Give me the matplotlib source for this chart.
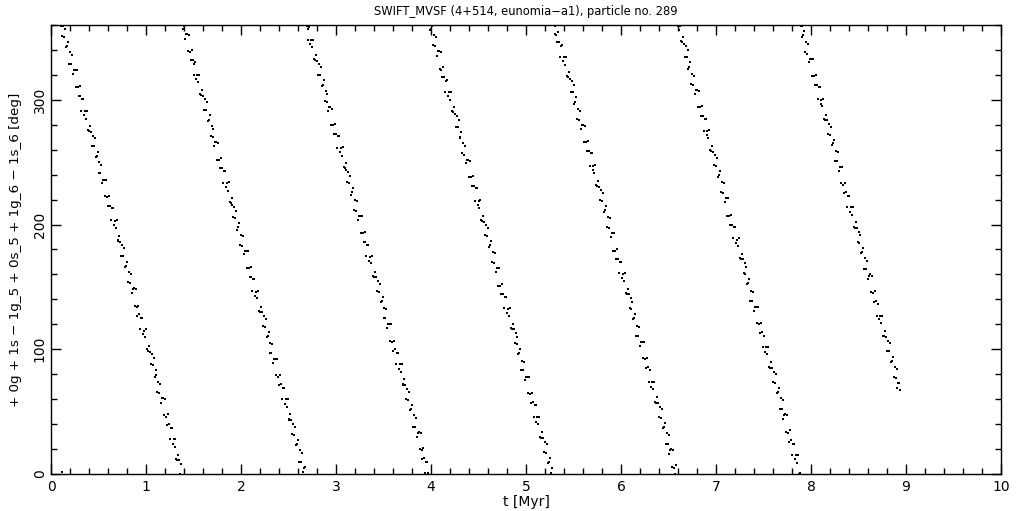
import numpy as np
import matplotlib
matplotlib.use('Agg')
import matplotlib.pyplot as plt
from matplotlib.ticker import MultipleLocator

# ------------------------------------------------
# Data: resonant angle, one list per
# circulation cycle, sampled every dt from its start time.
# ------------------------------------------------

dt = 0.01  # Myr

band_starts = [0.11, 1.39, 2.69, 3.99, 5.30, 6.60, 7.89]

band1 = [359, 351, 359, 350, 357, 342, 343, 346, 329, 338, 329, 336, 321, 324, 324, 310,
         324, 310, 303, 311, 303, 291, 301, 301, 288, 291, 285, 291, 276, 275, 279, 274,
         263, 271, 263, 269, 254, 255, 258, 241, 250, 241, 248, 233, 236, 236, 223, 236,
         222, 215, 223, 215, 204, 213, 213, 200, 203, 197, 204, 188, 187, 191, 186, 175,
         184, 175, 181, 166, 167, 170, 154, 162, 153, 160, 145, 148, 149, 135, 148, 134,
         127, 135, 128, 116, 125, 125, 112, 115, 110, 116, 100, 99, 103, 98, 88, 96,
         87, 93, 78, 79, 83, 66, 74, 65, 72, 57, 61, 61, 47, 60, 46, 39,
         48, 40, 28, 37, 37, 24, 28, 22, 28, 12, 11, 15, 11, 0, 8]

band2 = [357, 359, 349, 353, 353, 339, 352, 338, 332, 340, 332, 320, 329, 330, 317, 320,
         314, 320, 305, 304, 308, 303, 292, 301, 292, 298, 283, 284, 288, 271, 279, 270,
         277, 263, 266, 266, 252, 265, 252, 245, 253, 245, 233, 243, 243, 230, 233, 227,
         234, 218, 217, 221, 216, 206, 214, 205, 211, 196, 198, 201, 184, 192, 183, 191,
         176, 179, 179, 165, 179, 165, 158, 166, 158, 147, 156, 156, 143, 146, 141, 147,
         131, 130, 134, 130, 119, 127, 118, 124, 110, 111, 114, 97, 105, 97, 104, 89,
         92, 92, 79, 92, 78, 71, 79, 72, 60, 69, 69, 56, 60, 54, 60, 44,
         43, 48, 43, 32, 40, 31, 38, 23, 24, 27, 10, 19, 10, 17, 2, 5, 6]

band3 = [359, 348, 357, 358, 345, 348, 342, 348, 333, 332, 336, 331, 320, 329, 320, 326,
         311, 312, 316, 299, 307, 298, 305, 291, 294, 294, 280, 293, 280, 273, 281, 273,
         261, 271, 271, 258, 261, 255, 262, 246, 245, 249, 244, 234, 242, 233, 239, 224,
         226, 229, 212, 220, 211, 219, 204, 207, 207, 193, 207, 193, 186, 194, 186, 175,
         184, 184, 171, 174, 169, 175, 159, 158, 162, 158, 147, 155, 146, 152, 138, 139,
         142, 125, 133, 125, 132, 117, 120, 120, 107, 120, 106, 99, 107, 100, 88, 97,
         97, 84, 88, 82, 88, 72, 71, 76, 71, 60, 68, 59, 66, 51, 52, 55,
         38, 47, 38, 45, 30, 33, 34, 20, 33, 19, 12, 21, 13, 1, 10, 10, 1]

band4 = [356, 357, 359, 344, 352, 343, 350, 335, 339, 339, 325, 338, 324, 318, 326, 318,
         306, 315, 316, 303, 306, 300, 306, 291, 290, 294, 289, 278, 287, 278, 284, 269,
         270, 274, 257, 265, 256, 263, 249, 252, 252, 238, 251, 238, 231, 239, 231, 219,
         229, 229, 216, 219, 213, 220, 204, 203, 207, 202, 192, 200, 191, 197, 182, 184,
         187, 170, 178, 169, 177, 162, 165, 165, 151, 165, 151, 144, 152, 144, 133, 142,
         142, 129, 132, 127, 133, 117, 116, 120, 116, 105, 113, 104, 110, 96, 97, 100,
         83, 91, 83, 90, 75, 78, 78, 65, 78, 64, 57, 65, 58, 46, 55, 55,
         42, 46, 40, 46, 30, 29, 34, 29, 18, 26, 17, 24, 9, 10, 13, 1, 5]

band5 = [353, 359, 352, 346, 354, 346, 334, 343, 344, 331, 334, 328, 334, 319, 318, 322,
         317, 306, 315, 306, 312, 297, 298, 302, 285, 293, 284, 291, 277, 280, 280, 266,
         279, 266, 259, 267, 259, 247, 257, 257, 244, 247, 241, 248, 232, 231, 235, 230,
         220, 228, 219, 225, 210, 212, 215, 198, 206, 197, 205, 190, 193, 193, 179, 193,
         179, 172, 180, 172, 161, 170, 170, 157, 160, 155, 161, 145, 144, 148, 144, 133,
         141, 132, 138, 124, 125, 128, 111, 119, 111, 118, 103, 106, 106, 93, 106, 92,
         85, 93, 86, 74, 83, 83, 70, 74, 68, 74, 58, 57, 62, 57, 46, 54,
         45, 52, 37, 38, 41, 24, 33, 24, 31, 16, 19, 20, 6, 19, 5, 0, 7]

band6 = [359, 356, 359, 347, 346, 350, 345, 334, 343, 334, 340, 325, 326, 330, 313, 321,
         312, 319, 305, 308, 308, 294, 307, 294, 287, 295, 287, 275, 285, 285, 272, 275,
         269, 276, 260, 259, 263, 258, 248, 256, 247, 253, 238, 240, 243, 226, 234, 225,
         233, 218, 221, 221, 207, 221, 207, 200, 208, 200, 189, 198, 198, 185, 188, 183,
         189, 173, 172, 176, 172, 161, 169, 160, 166, 152, 153, 156, 139, 147, 139, 146,
         131, 134, 134, 121, 134, 120, 113, 121, 114, 102, 111, 111, 98, 102, 96, 102,
         86, 85, 90, 85, 74, 82, 73, 80, 65, 66, 69, 52, 61, 52, 59, 44,
         47, 48, 34, 47, 33, 26, 35, 27, 15, 24, 24, 12, 15, 9, 15, 0, 1]

band7 = [359, 359, 350, 352, 355, 338, 346, 337, 345, 330, 333, 333, 319, 333, 319, 312,
         320, 312, 301, 310, 310, 297, 300, 295, 301, 285, 284, 288, 284, 273, 281, 272,
         278, 264, 265, 268, 251, 259, 251, 258, 243, 246, 246, 233, 246, 232, 225, 233,
         226, 214, 223, 223, 210, 214, 208, 214, 198, 197, 202, 197, 186, 194, 185, 192,
         177, 178, 181, 164, 173, 164, 171, 156, 159, 160, 146, 159, 145, 138, 147, 139,
         127, 136, 136, 124, 127, 121, 127, 111, 111, 115, 110, 99, 107, 99, 105, 90,
         91, 94, 78, 86, 77, 84, 69, 73, 73, 67]

bands = [band1, band2, band3, band4, band5, band6, band7]

# a lone point at the very bottom, just before the first cycle wraps
stray_t = [0.12]
stray_deg = [2]

title = 'SWIFT_MVSF (4+514, eunomia\u2212a1), particle no. 289'
xlabel = 't [Myr]'
ylabel = '+ 0g + 1s \u2212 1g_5 + 0s_5 + 1g_6 \u2212 1s_6 [deg]'

# ------------------------------------------------
# Plot
# ------------------------------------------------

plt.rcParams['font.family'] = 'DejaVu Sans'

fig = plt.figure(figsize=(10.21, 5.11), dpi=100)
ax = fig.add_axes([51 / 1021, 37 / 511, 950 / 1021, 449 / 511])

for start, vals in zip(band_starts, bands):
    t = start + dt * np.arange(len(vals))
    ax.plot(t, vals, linestyle='none', marker='s', markersize=1.5,
            markeredgewidth=0, color='black')
ax.plot(stray_t, stray_deg, linestyle='none', marker='s', markersize=1.5,
        markeredgewidth=0, color='black')

ax.set_xlim(0, 10)
ax.set_ylim(0, 360)
ax.xaxis.set_major_locator(MultipleLocator(1))
ax.xaxis.set_minor_locator(MultipleLocator(0.2))
ax.yaxis.set_major_locator(MultipleLocator(100))
ax.yaxis.set_minor_locator(MultipleLocator(20))
ax.tick_params(which='both', direction='in', top=True, right=True,
               width=1, color='black', labelsize=10)
ax.tick_params(which='major', length=7)
ax.tick_params(which='minor', length=4)
ax.tick_params(axis='x', pad=4)
ax.tick_params(axis='y', pad=3)
for lab in ax.get_yticklabels():
    lab.set_rotation(90)
    lab.set_va('center')
for sp in ax.spines.values():
    sp.set_linewidth(1)

ax.set_title(title, fontsize=8.3, pad=7)
ax.set_xlabel(xlabel, fontsize=10, labelpad=1)
ax.set_ylabel(ylabel, fontsize=9.7, labelpad=8)

fig.savefig('out.png', dpi=100)
